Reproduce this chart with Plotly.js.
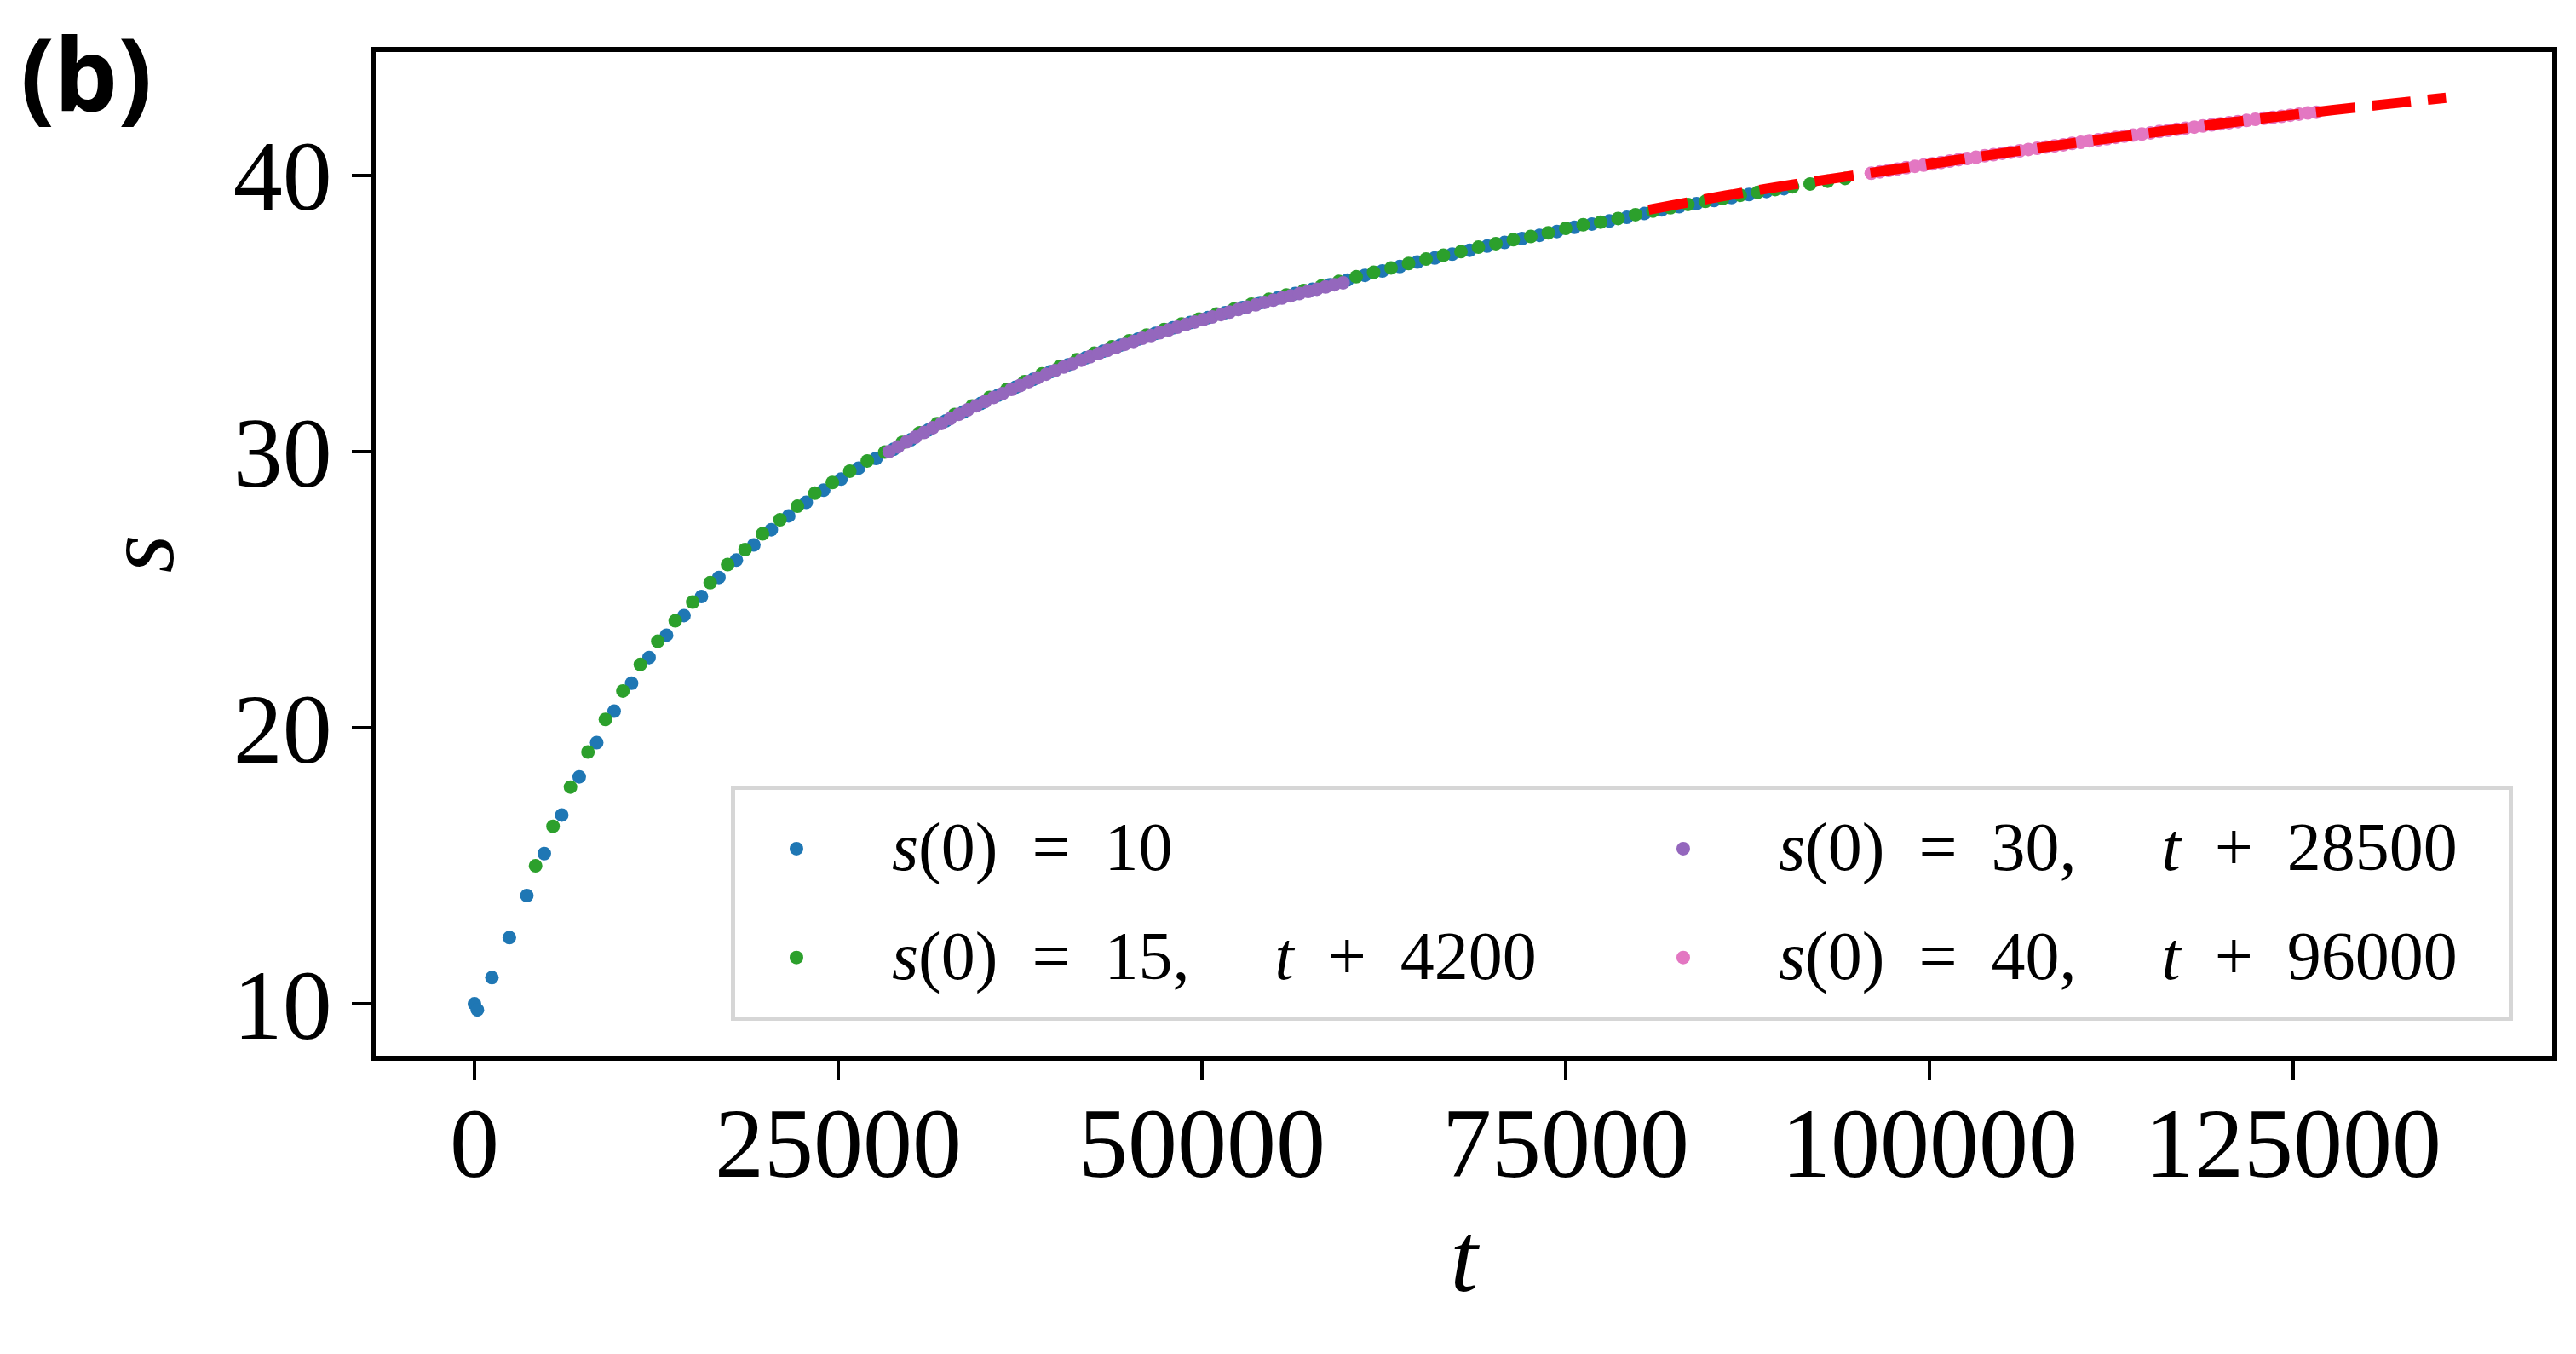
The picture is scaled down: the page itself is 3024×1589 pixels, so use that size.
<!DOCTYPE html>
<html>
<head>
<meta charset="utf-8">
<script src="https://cdn.plot.ly/plotly-3.0.1.min.js"></script>
<style>
  html, body { margin: 0; padding: 0; background: #fff; }
  #chart { width: 3024px; height: 1589px; }
</style>
</head>
<body>
<div id="chart"></div>
<script>
// s(0) = 10, plotted as is
var tBlue = [0, 200, 1200, 2400, 3600, 4800, 6000, 7200, 8400, 9600, 10800, 12000, 13200, 14400,
  15600, 16800, 18000, 19200, 20400, 21600, 22800, 24000, 25200, 26400, 27600, 28800, 30000,
  31200, 32400, 33600, 34800, 36000, 37200, 38400, 39600, 40800, 42000, 43200, 44400, 45600,
  46800, 48000, 49200, 50400, 51600, 52800, 54000, 55200, 56400, 57600, 58800, 60000, 61200,
  62400, 63600, 64800, 66000, 67200, 68400, 69600, 70800, 72000, 73200, 74400, 75600, 76800,
  78000, 79200, 80400, 81600, 82800, 84000, 85200, 86400, 87600, 88800, 90000];
var sBlue = [10.00, 9.78, 10.95, 12.40, 13.92, 15.44, 16.84, 18.22, 19.46, 20.60, 21.61, 22.54,
  23.35, 24.06, 24.75, 25.44, 26.07, 26.62, 27.17, 27.67, 28.16, 28.60, 29.00, 29.40, 29.75,
  30.08, 30.43, 30.78, 31.11, 31.43, 31.74, 32.04, 32.33, 32.61, 32.89, 33.14, 33.39, 33.63,
  33.85, 34.07, 34.28, 34.48, 34.67, 34.85, 35.03, 35.21, 35.39, 35.56, 35.72, 35.88, 36.04,
  36.21, 36.38, 36.54, 36.70, 36.86, 37.01, 37.15, 37.29, 37.44, 37.57, 37.71, 37.83, 37.97,
  38.12, 38.24, 38.35, 38.48, 38.62, 38.75, 38.87, 38.98, 39.09, 39.20, 39.31, 39.42, 39.52];

// s(0) = 15, shifted by t + 4200
var greenShift = 4200;
var tGreen = [0, 1200, 2400, 3600, 4800, 6000, 7200, 8400, 9600, 10800, 12000, 13200, 14400,
  15600, 16800, 18000, 19200, 20400, 21600, 22800, 24000, 25200, 26400, 27600, 28800, 30000,
  31200, 32400, 33600, 34800, 36000, 37200, 38400, 39600, 40800, 42000, 43200, 44400, 45600,
  46800, 48000, 49200, 50400, 51600, 52800, 54000, 55200, 56400, 57600, 58800, 60000, 61200,
  62400, 63600, 64800, 66000, 67200, 68400, 69600, 70800, 72000, 73200, 74400, 75600, 76800,
  78000, 79200, 80400, 81600, 82800, 84000, 85200, 86400, 87600, 88800, 90000];
var sGreen = [15.00, 16.43, 17.85, 19.12, 20.30, 21.33, 22.29, 23.13, 23.87, 24.55, 25.25, 25.91,
  26.45, 27.02, 27.53, 28.02, 28.49, 28.88, 29.29, 29.66, 29.98, 30.33, 30.68, 31.01, 31.34,
  31.65, 31.96, 32.25, 32.53, 32.81, 33.07, 33.32, 33.56, 33.79, 34.01, 34.22, 34.42, 34.62,
  34.80, 34.98, 35.16, 35.34, 35.51, 35.67, 35.83, 35.99, 36.16, 36.33, 36.49, 36.65, 36.81,
  36.97, 37.11, 37.24, 37.40, 37.53, 37.67, 37.79, 37.92, 38.08, 38.21, 38.31, 38.44, 38.58,
  38.71, 38.83, 38.95, 39.06, 39.17, 39.28, 39.39, 39.49, 39.59, 39.69, 39.79, 39.89];

// s(0) = 30, shifted by t + 28500
var purpleShift = 28500;
var tPurple = [0, 600, 1200, 1800, 2400, 3000, 3600, 4200, 4800, 5400, 6000, 6600, 7200, 7800,
  8400, 9000, 9600, 10200, 10800, 11400, 12000, 12600, 13200, 13800, 14400, 15000, 15600,
  16200, 16800, 17400, 18000, 18600, 19200, 19800, 20400, 21000, 21600, 22200, 22800, 23400,
  24000, 24600, 25200, 25800, 26400, 27000, 27600, 28200, 28800, 29400, 30000, 30600, 31200];
var sPurple = [30.00, 30.17, 30.35, 30.52, 30.69, 30.86, 31.02, 31.19, 31.35, 31.51, 31.66,
  31.81, 31.96, 32.10, 32.25, 32.39, 32.53, 32.67, 32.80, 32.93, 33.06, 33.18, 33.31, 33.43,
  33.55, 33.66, 33.77, 33.88, 33.99, 34.10, 34.20, 34.30, 34.40, 34.50, 34.60, 34.69, 34.78,
  34.87, 34.96, 35.05, 35.14, 35.23, 35.31, 35.40, 35.48, 35.56, 35.64, 35.72, 35.80, 35.88,
  35.96, 36.04, 36.11];

// s(0) = 40, shifted by t + 96000
var pinkShift = 96000;
var tPink = [0, 600, 1200, 1800, 2400, 3000, 3600, 4200, 4800, 5400, 6000, 6600, 7200, 7800,
  8400, 9000, 9600, 10200, 10800, 11400, 12000, 12600, 13200, 13800, 14400, 15000, 15600,
  16200, 16800, 17400, 18000, 18600, 19200, 19800, 20400, 21000, 21600, 22200, 22800, 23400,
  24000, 24600, 25200, 25800, 26400, 27000, 27600, 28200, 28800, 29400, 30000, 30600];
var sPink = [40.08, 40.13, 40.18, 40.23, 40.28, 40.33, 40.37, 40.42, 40.47, 40.52, 40.57, 40.61,
  40.66, 40.71, 40.75, 40.80, 40.84, 40.89, 40.94, 40.98, 41.03, 41.07, 41.11, 41.16, 41.20,
  41.25, 41.29, 41.33, 41.38, 41.42, 41.46, 41.50, 41.54, 41.59, 41.63, 41.67, 41.71, 41.75,
  41.79, 41.83, 41.87, 41.91, 41.95, 41.99, 42.03, 42.07, 42.10, 42.14, 42.18, 42.22, 42.26, 42.29];

// red dashed curve
var tFit = [80700, 86000, 91000, 96000, 101000, 106000, 111000, 116000, 121000, 126000, 131000, 135500];
var sFit = [38.76, 39.27, 39.70, 40.09, 40.49, 40.88, 41.25, 41.60, 41.94, 42.26, 42.56, 42.81];

var xTicks = [0, 25000, 50000, 75000, 100000, 125000];
var yTicks = [10, 20, 30, 40];

function shift(arr, d) { return arr.map(function (v) { return v + d; }); }

var sp = '\u00a0';
var eq = sp + sp + '=' + sp + sp;
var plus = sp + sp + '+' + sp + sp;
var gap = sp + sp + sp + sp + sp;
function lbl(s) {
  return '<span style="font-size:80px;baseline-shift:12px">' + sp + sp + s + '</span>';
}

var dot = 16;

var blue = {
  x: tBlue, y: sBlue, mode: 'markers', type: 'scatter',
  name: lbl('<i>s</i>(0)' + eq + '10'), legendrank: 1,
  marker: { color: '#1f77b4', size: dot }
};
var green = {
  x: shift(tGreen, greenShift), y: sGreen, mode: 'markers', type: 'scatter',
  name: lbl('<i>s</i>(0)' + eq + '15,' + gap + '<i>t</i>' + plus + '4200'), legendrank: 3,
  marker: { color: '#2ca02c', size: dot }
};
var purple = {
  x: shift(tPurple, purpleShift), y: sPurple, mode: 'markers', type: 'scatter',
  name: lbl('<i>s</i>(0)' + eq + '30,' + gap + '<i>t</i>' + plus + '28500'), legendrank: 2,
  marker: { color: '#9467bd', size: dot }
};
var pink = {
  x: shift(tPink, pinkShift), y: sPink, mode: 'markers', type: 'scatter',
  name: lbl('<i>s</i>(0)' + eq + '40,' + gap + '<i>t</i>' + plus + '96000'), legendrank: 4,
  marker: { color: '#e377c2', size: dot }
};
var fit = {
  x: tFit, y: sFit, mode: 'lines', type: 'scatter', showlegend: false,
  line: { color: '#ff0000', width: 12, dash: '46px,20px', shape: 'spline' }
};

var data = [blue, green, purple, pink, fit];

var tickFont = { family: 'Liberation Serif, DejaVu Serif, serif', size: 116, color: '#000' };

var layout = {
  width: 3024, height: 1589,
  paper_bgcolor: '#fff', plot_bgcolor: '#fff',
  margin: { l: 441, r: 28, t: 61, b: 350 },
  showlegend: true,
  xaxis: {
    range: [-6790, 142800], tickvals: xTicks, tickformat: 'd',
    showgrid: false, zeroline: false,
    showline: true, mirror: true, linecolor: '#000', linewidth: 6,
    ticks: 'outside', ticklen: 22, tickwidth: 4, tickcolor: '#000',
    tickfont: tickFont, ticklabelstandoff: -25,
    title: { text: '<i>t</i>', font: tickFont, standoff: 31 }
  },
  yaxis: {
    range: [8.12, 44.47], tickvals: yTicks,
    showgrid: false, zeroline: false,
    showline: true, mirror: true, linecolor: '#000', linewidth: 6,
    ticks: 'outside', ticklen: 22, tickwidth: 4, tickcolor: '#000',
    tickfont: tickFont, ticklabelstandoff: 0,
    title: { text: '<i>s</i>', font: tickFont, standoff: 33 }
  },
  legend: {
    x: 0.1632, y: 0.2691, xanchor: 'left', yanchor: 'top',
    orientation: 'h', entrywidth: 892, entrywidthmode: 'pixels',
    itemwidth: 134, itemsizing: 'trace',
    bgcolor: '#fff', bordercolor: '#d6d6d6', borderwidth: 5,
    font: { family: 'Liberation Serif, DejaVu Serif, serif', size: 96, color: '#000' }
  },
  annotations: [{
    text: '<b>(b)</b>', xref: 'paper', yref: 'paper',
    x: -0.133, y: 0.980, xanchor: 'center', yanchor: 'middle', showarrow: false,
    font: { family: 'Noto Sans', size: 118, color: '#000' }
  }]
};

Plotly.newPlot('chart', data, layout, { staticPlot: true });
</script>
</body>
</html>
